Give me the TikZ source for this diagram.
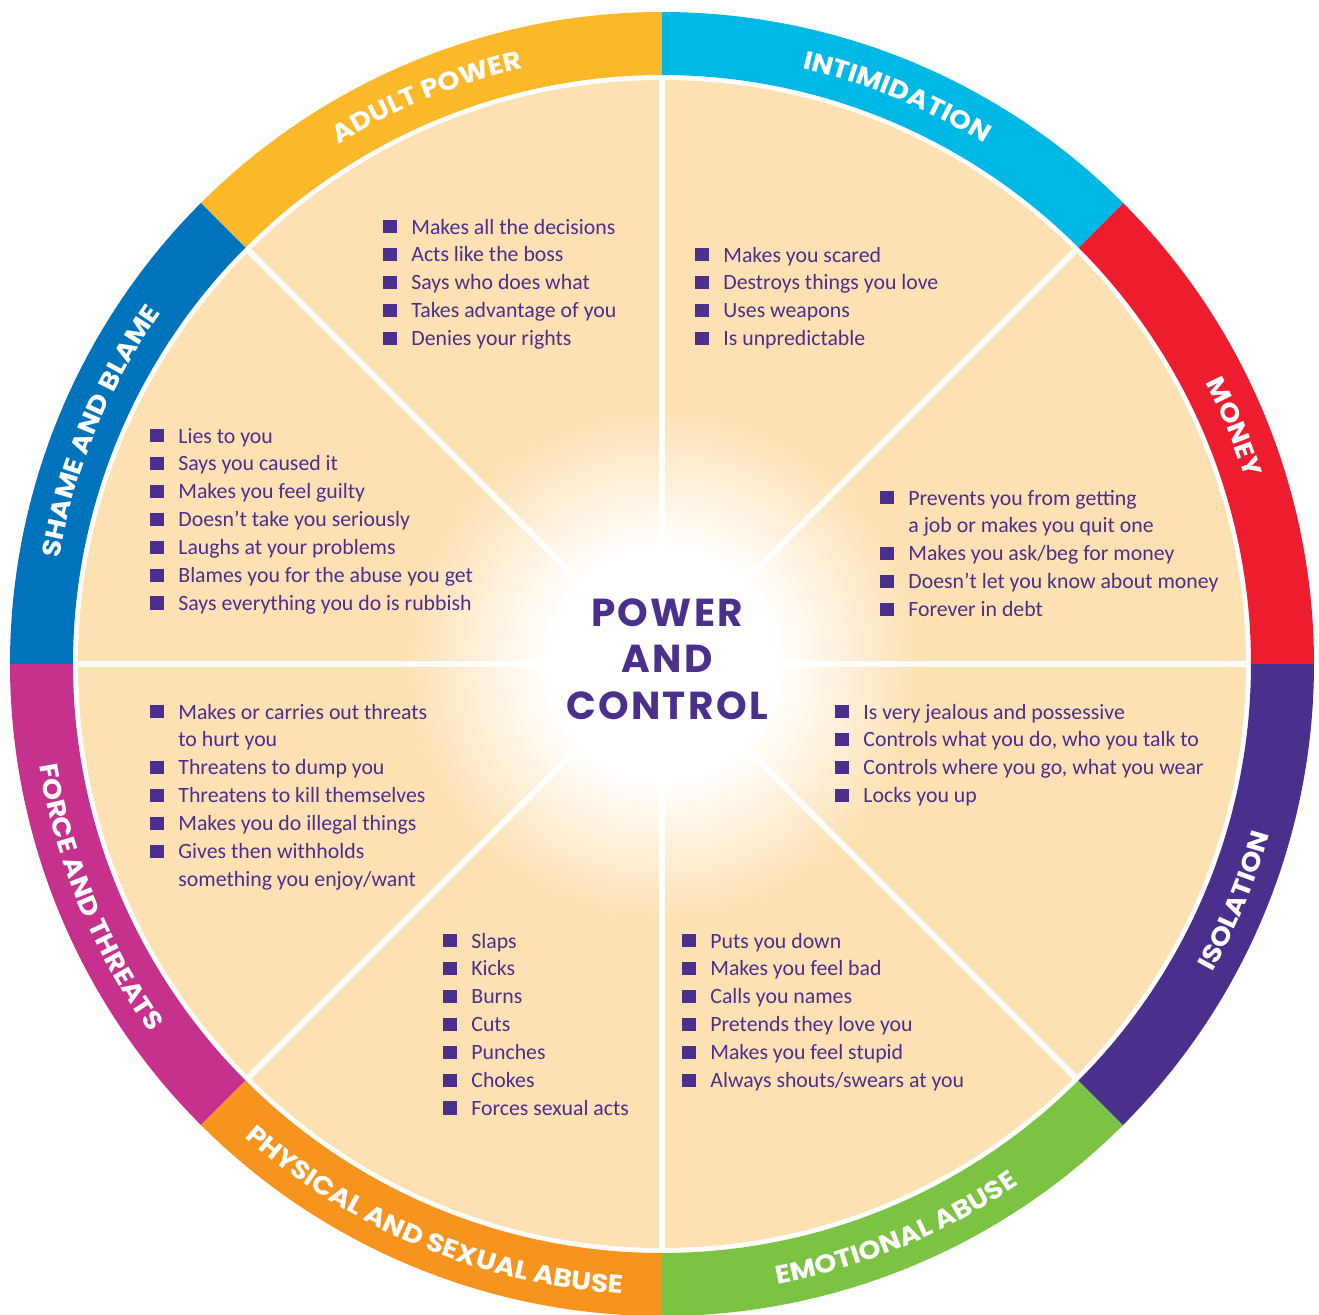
\documentclass[tikz,border=0pt]{standalone}
\usepackage{fontspec}
\usetikzlibrary{decorations.text}
\newfontfamily\itemfont{Carlito}
\newfontfamily\headfont{Poppins}[FakeStretch=1.1]
\newfontfamily\hubfont{Poppins}[LetterSpace=6]
\definecolor{adult}{HTML}{FBB829}
\definecolor{intim}{HTML}{00B8E6}
\definecolor{money}{HTML}{EE1C2F}
\definecolor{isol}{HTML}{4A2F8C}
\definecolor{emot}{HTML}{7CC243}
\definecolor{phys}{HTML}{F7941D}
\definecolor{force}{HTML}{C7318E}
\definecolor{shame}{HTML}{0073BD}
\definecolor{beige}{HTML}{FDE1B3}
\colorlet{ink}{isol}
\pgfdeclareradialshading{glow}{\pgfpoint{0bp}{0bp}}{color(0bp)=(white); color(4.8bp)=(white); color(11bp)=(beige); color(50bp)=(beige)}
\newcommand\ringfont{\headfont\bfseries\fontsize{12.8pt}{15pt}\selectfont}
\newcommand\bul{\rule[0.3pt]{6.7pt}{6.7pt}\hspace{7.3pt}}
\newcommand\nobul{\hspace*{14pt}}
\tikzset{
  item/.style={anchor=base west, inner sep=0pt, text=ink, font=\itemfont\fontsize{10.9pt}{12pt}\selectfont},
  divider/.style={draw=white, line width=3pt},
  ringlabel/.style={decorate, decoration={text along path, text align=center, text color=white}},
  hub/.style={align=center, text=ink, font=\hubfont\bfseries\fontsize{19.5pt}{23.3pt}\selectfont},
}

\begin{document}
\begin{tikzpicture}[x=0.5pt, y=0.5pt]
\fill[white] (-662,-650) rectangle (657,664);
\useasboundingbox (-662,-650) rectangle (657,664);
% outer ring
\foreach \a/\col in {0/money, 45/intim, 90/adult, 135/shame, 180/force, 225/phys, 270/emot, 315/isol}
{
  \fill[\col] (\a:652) arc[start angle=\a, end angle=\a+45, radius=652]
    -- ({\a+45}:589) arc[start angle=\a+45, end angle=\a, radius=589] -- cycle;
}
% panels
\path[shading=glow] (0,0) circle[radius=584];
\foreach \a in {0,45,...,315}
  \draw[divider] (0,0) -- (\a:584);
% ring labels, top half clockwise, bottom half anticlockwise
\foreach \a/\lbl in {0/MONEY, 45/INTIMIDATION, 90/ADULT POWER, 135/SHAME AND BLAME}
{
  \path[ringlabel, decoration={text/.expanded={|\noexpand\ringfont|\lbl}}]
    ({\a+45}:612) arc[start angle=\a+45, end angle=\a, radius=612];
}
\foreach \a/\lbl in {180/FORCE AND THREATS, 225/PHYSICAL AND SEXUAL ABUSE, 270/EMOTIONAL ABUSE, 315/ISOLATION}
{
  \path[ringlabel, decoration={text/.expanded={|\noexpand\ringfont|\lbl}}]
    (\a:631) arc[start angle=\a, end angle=\a+45, radius=631];
}
\node[hub] (hub) at (5,5) {POWER\\AND\\CONTROL};
% lists
\foreach \t [count=\i] in {\bul Makes all the decisions, \bul Acts like the boss, \bul Says who does what,
    \bul Takes advantage of you, \bul Denies your rights}
  \node[item] (adult-\i) at (-279, {430-27.9*(\i-1)}) {\t};
\foreach \t [count=\i] in {\bul Makes you scared, \bul Destroys things you love, \bul Uses weapons,
    \bul Is unpredictable}
  \node[item] (intim-\i) at (33, {402-27.9*(\i-1)}) {\t};
\foreach \t [count=\i] in {\bul Prevents you from getting, \nobul a job or makes you quit one,
    \bul Makes you ask/beg for money, \bul Doesn’t let you know about money, \bul Forever in debt}
  \node[item] (money-\i) at (218, {159-27.9*(\i-1)}) {\t};
\foreach \t [count=\i] in {\bul Lies to you, \bul Says you caused it, \bul Makes you feel guilty,
    \bul Doesn’t take you seriously, \bul Laughs at your problems, \bul Blames you for the abuse you get,
    \bul Says everything you do is rubbish}
  \node[item] (shame-\i) at (-512, {221-27.9*(\i-1)}) {\t};
\foreach \t [count=\i] in {\bul Makes or carries out threats, \nobul to hurt you, \bul Threatens to dump you,
    \bul Threatens to kill themselves, \bul Makes you do illegal things, \bul Gives then withholds,
    \nobul something you enjoy/want}
  \node[item] (force-\i) at (-512, {-55-27.9*(\i-1)}) {\t};
\foreach \t [count=\i] in {\bul Is very jealous and possessive, {\bul Controls what you do, who you talk to},
    {\bul Controls where you go, what you wear}, \bul Locks you up}
  \node[item] (isol-\i) at (173, {-55-27.9*(\i-1)}) {\t};
\foreach \t [count=\i] in {\bul Puts you down, \bul Makes you feel bad, \bul Calls you names,
    \bul Pretends they love you, \bul Makes you feel stupid, \bul Always shouts/swears at you}
  \node[item] (emot-\i) at (20, {-284-27.9*(\i-1)}) {\t};
\foreach \t [count=\i] in {\bul Slaps, \bul Kicks, \bul Burns, \bul Cuts, \bul Punches, \bul Chokes,
    \bul Forces sexual acts}
  \node[item] (phys-\i) at (-219, {-284-27.9*(\i-1)}) {\t};
\end{tikzpicture}
\end{document}
